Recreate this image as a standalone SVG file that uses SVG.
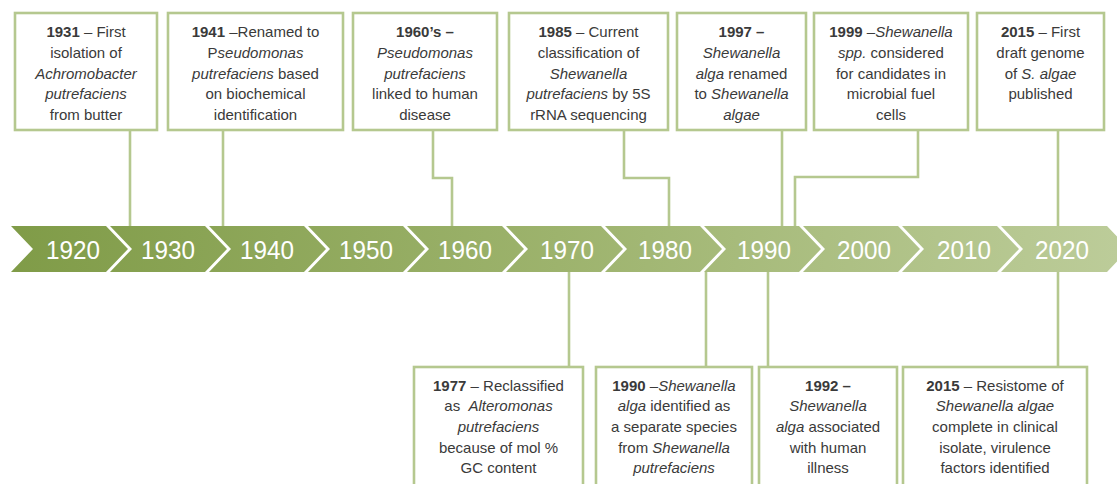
<svg xmlns="http://www.w3.org/2000/svg" width="1117" height="484" viewBox="0 0 1117 484">
<style>
.box{fill:#ffffff;stroke:#b5c88f;stroke-width:2.6}
.con{fill:none;stroke:#b5c88f;stroke-width:2.6}
.t{font-family:"Liberation Sans",Arial,sans-serif;font-size:15px;fill:#3a3a3a;text-anchor:middle}
.b{font-weight:bold}
.i{font-style:italic}
.yr{font-family:"Liberation Sans",Arial,sans-serif;font-size:26px;fill:#ffffff;text-anchor:middle}
</style>
<defs>
<linearGradient id="band" gradientUnits="userSpaceOnUse" x1="0" y1="0" x2="1117" y2="0">
<stop offset="0" stop-color="#7f9b47"/>
<stop offset="0.5" stop-color="#9db36d"/>
<stop offset="1" stop-color="#bccc99"/>
</linearGradient>
</defs>
<rect width="1117" height="484" fill="#ffffff"/>
<g id="connectors">
<path class="con" d="M130,130 V226"/>
<path class="con" d="M223,130 V226"/>
<path class="con" d="M433,130 V178 H452 V226"/>
<path class="con" d="M624,130 V178 H669 V226"/>
<path class="con" d="M782,130 V226"/>
<path class="con" d="M918,130 V177 H795 V226"/>
<path class="con" d="M1058,130 V226"/>
<path class="con" d="M569,272 V367"/>
<path class="con" d="M706,272 V367"/>
<path class="con" d="M768,272 V367"/>
<path class="con" d="M1058,272 V367"/>
</g>
<g id="timeline" fill="url(#band)">
<path d="M11,226 H106 L128,249 L106,272 H11 L33,249 Z"/>
<path d="M110,226 H205 L227,249 L205,272 H110 L132,249 Z"/>
<path d="M209,226 H304 L326,249 L304,272 H209 L231,249 Z"/>
<path d="M308,226 H403 L425,249 L403,272 H308 L330,249 Z"/>
<path d="M407,226 H502 L524,249 L502,272 H407 L429,249 Z"/>
<path d="M506,226 H601 L623,249 L601,272 H506 L528,249 Z"/>
<path d="M605,226 H700 L722,249 L700,272 H605 L627,249 Z"/>
<path d="M704,226 H799 L821,249 L799,272 H704 L726,249 Z"/>
<path d="M803,226 H898 L920,249 L898,272 H803 L825,249 Z"/>
<path d="M902,226 H997 L1019,249 L997,272 H902 L924,249 Z"/>
<path d="M1001,226 H1107 L1129,249 L1107,272 H1001 L1023,249 Z"/>
<text class="yr" x="73" y="259" textLength="54" lengthAdjust="spacingAndGlyphs">1920</text>
<text class="yr" x="168" y="259" textLength="54" lengthAdjust="spacingAndGlyphs">1930</text>
<text class="yr" x="267" y="259" textLength="54" lengthAdjust="spacingAndGlyphs">1940</text>
<text class="yr" x="366" y="259" textLength="54" lengthAdjust="spacingAndGlyphs">1950</text>
<text class="yr" x="465" y="259" textLength="54" lengthAdjust="spacingAndGlyphs">1960</text>
<text class="yr" x="567" y="259" textLength="54" lengthAdjust="spacingAndGlyphs">1970</text>
<text class="yr" x="665" y="259" textLength="54" lengthAdjust="spacingAndGlyphs">1980</text>
<text class="yr" x="764" y="259" textLength="54" lengthAdjust="spacingAndGlyphs">1990</text>
<text class="yr" x="864" y="259" textLength="54" lengthAdjust="spacingAndGlyphs">2000</text>
<text class="yr" x="964" y="259" textLength="54" lengthAdjust="spacingAndGlyphs">2010</text>
<text class="yr" x="1062" y="259" textLength="54" lengthAdjust="spacingAndGlyphs">2020</text>
</g>
<g id="e1931">
<rect class="box" x="15" y="13" width="142" height="117"/>
<text class="t" x="86" y="37"><tspan class="b">1931</tspan> – First</text>
<text class="t" x="86" y="57.7">isolation of</text>
<text class="t i" x="86" y="78.5">Achromobacter</text>
<text class="t i" x="86" y="99.3">putrefaciens</text>
<text class="t" x="86" y="120">from butter</text>
</g>
<g id="e1941">
<rect class="box" x="168" y="13" width="175" height="117"/>
<text class="t" x="255.5" y="37"><tspan class="b">1941</tspan> –Renamed to</text>
<text class="t" x="255.5" y="57.7">P<tspan class="i">seudomonas</tspan></text>
<text class="t" x="255.5" y="78.5"><tspan class="i">putrefaciens</tspan> based</text>
<text class="t" x="255.5" y="99.3">on biochemical</text>
<text class="t" x="255.5" y="120">identification</text>
</g>
<g id="e1960s">
<rect class="box" x="353" y="13" width="144" height="117"/>
<text class="t b" x="425" y="37">1960’s –</text>
<text class="t i" x="425" y="57.7">Pseudomonas</text>
<text class="t i" x="425" y="78.5">putrefaciens</text>
<text class="t" x="425" y="99.3">linked to human</text>
<text class="t" x="425" y="120">disease</text>
</g>
<g id="e1985">
<rect class="box" x="509" y="13" width="159" height="117"/>
<text class="t" x="588.5" y="37"><tspan class="b">1985</tspan> – Current</text>
<text class="t" x="588.5" y="57.7">classification of</text>
<text class="t i" x="588.5" y="78.5">Shewanella</text>
<text class="t" x="588.5" y="99.3"><tspan class="i">putrefaciens</tspan> by 5S</text>
<text class="t" x="588.5" y="120">rRNA sequencing</text>
</g>
<g id="e1997">
<rect class="box" x="677" y="13" width="129" height="117"/>
<text class="t b" x="741.5" y="37">1997 –</text>
<text class="t i" x="741.5" y="57.7">Shewanella</text>
<text class="t" x="741.5" y="78.5"><tspan class="i">alga</tspan> renamed</text>
<text class="t" x="741.5" y="99.3">to <tspan class="i">Shewanella</tspan></text>
<text class="t i" x="741.5" y="120">algae</text>
</g>
<g id="e1999">
<rect class="box" x="814" y="13" width="154" height="117"/>
<text class="t" x="891" y="37"><tspan class="b">1999</tspan> –<tspan class="i">Shewanella</tspan></text>
<text class="t" x="891" y="57.7"><tspan class="i">spp.</tspan> considered</text>
<text class="t" x="891" y="78.5">for candidates in</text>
<text class="t" x="891" y="99.3">microbial fuel</text>
<text class="t" x="891" y="120">cells</text>
</g>
<g id="e2015a">
<rect class="box" x="977" y="13" width="127" height="117"/>
<text class="t" x="1040.5" y="37"><tspan class="b">2015</tspan> – First</text>
<text class="t" x="1040.5" y="57.7">draft genome</text>
<text class="t" x="1040.5" y="78.5">of <tspan class="i">S. algae</tspan></text>
<text class="t" x="1040.5" y="99.3">published</text>
</g>
<g id="e1977">
<rect class="box" x="414" y="367" width="169" height="125"/>
<text class="t" x="498.5" y="390.5"><tspan class="b">1977</tspan> – Reclassified</text>
<text class="t" x="498.5" y="411.2">as&#160; <tspan class="i">Alteromonas</tspan></text>
<text class="t i" x="498.5" y="432">putrefaciens</text>
<text class="t" x="498.5" y="452.7">because of mol %</text>
<text class="t" x="498.5" y="473.4">GC content</text>
</g>
<g id="e1990">
<rect class="box" x="596" y="367" width="156" height="125"/>
<text class="t" x="674" y="390.5"><tspan class="b">1990</tspan> –<tspan class="i">Shewanella</tspan></text>
<text class="t" x="674" y="411.2"><tspan class="i">alga</tspan> identified as</text>
<text class="t" x="674" y="432">a separate species</text>
<text class="t" x="674" y="452.7">from <tspan class="i">Shewanella</tspan></text>
<text class="t i" x="674" y="473.4">putrefaciens</text>
</g>
<g id="e1992">
<rect class="box" x="759" y="367" width="138" height="125"/>
<text class="t b" x="828" y="390.5">1992 –</text>
<text class="t i" x="828" y="411.2">Shewanella</text>
<text class="t" x="828" y="432"><tspan class="i">alga</tspan> associated</text>
<text class="t" x="828" y="452.7">with human</text>
<text class="t" x="828" y="473.4">illness</text>
</g>
<g id="e2015b">
<rect class="box" x="903" y="367" width="184" height="125"/>
<text class="t" x="995" y="390.5"><tspan class="b">2015</tspan> – Resistome of</text>
<text class="t i" x="995" y="411.2">Shewanella algae</text>
<text class="t" x="995" y="432">complete in clinical</text>
<text class="t" x="995" y="452.7">isolate, virulence</text>
<text class="t" x="995" y="473.4">factors identified</text>
</g>
</svg>
